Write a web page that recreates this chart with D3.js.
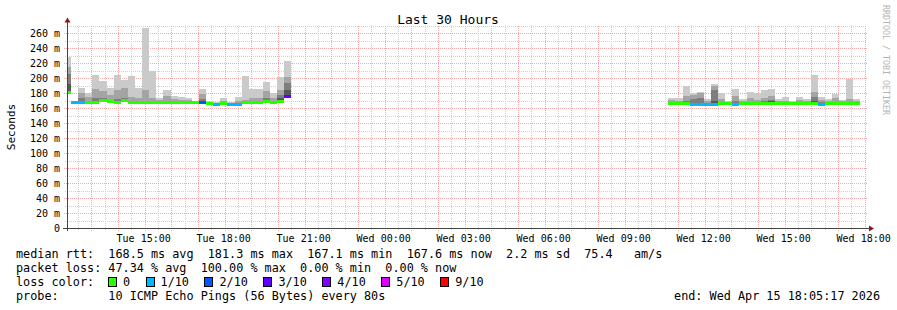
<!DOCTYPE html>
<meta charset="utf-8">
<html>
<head>
    <title>Last 30 Hours</title>
    <script src="https://cdn.jsdelivr.net/npm/d3@7"></script>
</head>

<style>
    body { margin: 0; background: #fff; }
    text { font-family: "DejaVu Sans Mono", monospace; fill: #000; }
</style>

<body>
<div id="chartdiv"></div>

<script>

// time window shown (30 hours)
const endTime = new Date(2026, 3, 15, 18, 5, 17);
const startTime = new Date(2026, 3, 14, 12, 5, 17);
const binMinutes = 16;

// first block of data (Tue afternoon/evening), one value per 16 min bin
const seg1Start = new Date(2026, 3, 14, 11, 58, 17);
const seg1Hi     = [228,170,187,180,204,196,187,204,198,203,187,267,209,173,184,176,175,174,170,185,169,168,173,168,175,203,185,185,195,180,201,223];
const seg1Mid    = [215,169,180,175,186,183,178,184,187,175,174,184,174,171,176,172,171,171,169,179,168,167,170,167,170,171,173,173,183,174,184,201];
const seg1Inner  = [206,168,174,170,173,174,171,172,174,169,169,170,169,168,170,169,168,168,168,172,167,166,168,166,166,168,169,169,173,169,178,193];
const seg1Core   = [192,168,168,168,168,171,169,168,171,168,168,168,168,168,168,168,168,168,168,168,167,166,167,166,166,168,168,168,169,168,173,184];
const seg1Median = [181,168,168,168,168,171,169,168,171,168,168,168,168,168,168,168,168,168,168,168,167,166,167,166,166,168,168,168,169,168,170,176];
const seg1Loss   = [0,1,1,0,0,0,0,0,0,0,0,0,0,0,0,0,0,0,0,2,0,1,0,1,1,0,0,0,0,0,0,3];

// second block of data (Wed late morning/afternoon)
const seg2Start = new Date(2026, 3, 15, 10, 38, 17);
const seg2Hi     = [174,174,189,180,181,172,192,180,170,185,172,182,180,184,185,172,175,170,175,172,204,175,172,179,171,199,172];
const seg2Mid    = [171,170,176,178,180,169,190,172,168,176,169,173,171,174,176,169,170,168,171,170,181,171,169,173,169,172,169];
const seg2Inner  = [168,168,170,172,174,167,184,168,167,169,168,168,168,169,171,168,168,167,168,168,175,168,168,168,168,168,168];
const seg2Core   = [167,167,167,166,166,166,170,167,167,166,167,167,167,167,169,167,167,167,167,167,170,166,167,167,167,167,167];
const seg2Median = [167,167,167,166,166,166,166,167,167,166,167,167,167,167,167,167,167,167,167,167,167,166,167,167,167,167,167];
const seg2Loss   = [0,0,0,1,1,1,1,0,0,1,0,0,0,0,0,0,0,0,0,0,0,1,0,0,0,0,0];

// loss colour legend
const lossLabels = ["0", "1/10", "2/10", "3/10", "4/10", "5/10", "9/10"];
const lossColors = ["#26ff00", "#00b8ff", "#0059ff", "#5e00ff", "#7e00ff", "#dd00ff", "#ff0000"];
const smokeColors = ["#cacaca", "#a4a4a4", "#7e7e7e", "#585858"];

// y ticks in ms
const yTicks = [0,20,40,60,80,100,120,140,160,180,200,220,240,260];

// text lines
const legendRtt  = "median rtt:  168.5 ms avg  181.3 ms max  167.1 ms min  167.6 ms now  2.2 ms sd  75.4   am/s";
const legendLoss = "packet loss: 47.34 % avg  100.00 % max  0.00 % min  0.00 % now";
const legendProbe = "probe:       10 ICMP Echo Pings (56 Bytes) every 80s";
const legendEnd = "end: Wed Apr 15 18:05:17 2026";

// chart geometry
const W = 897, H = 310;
const plotL = 67, plotR = 867, plotB = 228, plotT = 25.5;
const charW = 7.11;

const svg = d3.select("#chartdiv").append("svg")
    .attr("width", W).attr("height", H);

const x = d3.scaleTime().domain([startTime, endTime]).range([plotL, plotR]);
const y = d3.scaleLinear().domain([0, 270]).range([plotB, plotT]);

svg.append("clipPath").attr("id", "plotclip")
    .append("rect")
    .attr("x", plotL).attr("y", plotT - 5)
    .attr("width", plotR - plotL).attr("height", plotB - plotT + 5);

// grid - minor first, then major
const minorY = d3.range(10, 271, 20);
const majorY = d3.range(20, 271, 20);
const minorX = d3.timeMinute.every(30).range(startTime, endTime).filter(d => d.getMinutes() == 30);
const majorX = d3.timeHour.every(1).range(startTime, endTime);

const grid = svg.append("g");
grid.selectAll(".gy").data(minorY).enter().append("line")
    .attr("x1", plotL - 2).attr("x2", plotR)
    .attr("y1", d => Math.round(y(d)) + 0.5).attr("y2", d => Math.round(y(d)) + 0.5)
    .attr("stroke", "#cfcfcf").attr("stroke-dasharray", "1,1");
grid.selectAll(".gx").data(minorX).enter().append("line")
    .attr("x1", d => Math.round(x(d)) + 0.5).attr("x2", d => Math.round(x(d)) + 0.5)
    .attr("y1", plotB + 2).attr("y2", plotT)
    .attr("stroke", "#cfcfcf").attr("stroke-dasharray", "1,1");
grid.selectAll(".my").data(majorY).enter().append("line")
    .attr("x1", plotL - 3).attr("x2", plotR)
    .attr("y1", d => Math.round(y(d)) + 0.5).attr("y2", d => Math.round(y(d)) + 0.5)
    .attr("stroke", "#f5aaaa").attr("stroke-dasharray", "1,1");
grid.selectAll(".mx").data(majorX).enter().append("line")
    .attr("x1", d => Math.round(x(d)) + 0.5).attr("x2", d => Math.round(x(d)) + 0.5)
    .attr("y1", plotB + 3).attr("y2", plotT)
    .attr("stroke", "#f5aaaa").attr("stroke-dasharray", "1,1");

// build bins for the two segments
function makeBins(start, hi, mid, inner, core, median, loss) {
    return median.map((m, i) => ({
        t0: d3.timeMinute.offset(start, i * binMinutes),
        t1: d3.timeMinute.offset(start, (i + 1) * binMinutes),
        layers: [hi[i], mid[i], inner[i], core[i]],
        median: m,
        loss: loss[i]
    }));
}
const bins = makeBins(seg1Start, seg1Hi, seg1Mid, seg1Inner, seg1Core, seg1Median, seg1Loss)
    .concat(makeBins(seg2Start, seg2Hi, seg2Mid, seg2Inner, seg2Core, seg2Median, seg2Loss));

const plot = svg.append("g").attr("clip-path", "url(#plotclip)");

// smoke
smokeColors.forEach((c, li) => {
    plot.append("g").selectAll("rect")
        .data(bins.filter(b => b.layers[li] > b.median))
        .enter().append("rect")
        .attr("x", d => Math.round(x(d.t0)))
        .attr("width", d => Math.round(x(d.t1)) - Math.round(x(d.t0)))
        .attr("y", d => Math.round(y(d.layers[li])))
        .attr("height", d => Math.round(y(d.median - 2)) - Math.round(y(d.layers[li])))
        .attr("fill", c);
});

// median line coloured by loss
plot.append("g").selectAll("rect")
    .data(bins).enter().append("rect")
    .attr("x", d => Math.round(x(d.t0)))
    .attr("width", d => Math.round(x(d.t1)) - Math.round(x(d.t0)))
    .attr("y", d => Math.round(y(d.median)) - 1)
    .attr("height", 3)
    .attr("fill", d => lossColors[d.loss]);

// axes
svg.append("line")
    .attr("x1", plotL + 0.5).attr("x2", plotL + 0.5)
    .attr("y1", plotB + 3).attr("y2", plotT - 4)
    .attr("stroke", "#444");
svg.append("line")
    .attr("x1", plotL - 4).attr("x2", plotR + 3)
    .attr("y1", plotB + 0.5).attr("y2", plotB + 0.5)
    .attr("stroke", "#444");
svg.append("path")
    .attr("d", d3.line()([[plotL - 2.5, plotT - 3], [plotL + 3.5, plotT - 3], [plotL + 0.5, plotT - 8]]))
    .attr("fill", "#8b1a1a");
svg.append("path")
    .attr("d", d3.line()([[plotR + 2, plotB - 2.5], [plotR + 2, plotB + 3.5], [plotR + 7, plotB + 0.5]]))
    .attr("fill", "#8b1a1a");

// y tick labels
svg.append("g").selectAll("text")
    .data(yTicks).enter().append("text")
    .attr("x", 60).attr("y", d => y(d) + 3.5)
    .attr("text-anchor", "end")
    .style("font-size", "10px")
    .text(d => d == 0 ? "0" : d + " m");

// x tick labels every 3 hours
const xLabels = d3.timeHour.every(3).range(startTime, d3.timeMinute.offset(endTime, 1));
svg.append("g").selectAll("text")
    .data(xLabels).enter().append("text")
    .attr("x", d => x(d) - 1).attr("y", 241.5)
    .attr("text-anchor", "middle")
    .style("font-size", "10px")
    .text(d3.timeFormat("%a %H:%M"));

// title and axis label
svg.append("text")
    .attr("x", 448).attr("y", 24)
    .attr("text-anchor", "middle")
    .style("font-size", "13px")
    .text("Last 30 Hours");
svg.append("text")
    .attr("transform", "translate(15,127) rotate(-90)")
    .attr("text-anchor", "middle")
    .style("font-size", "11px")
    .text("Seconds");
svg.append("text")
    .attr("transform", "translate(883,5) rotate(90)")
    .attr("text-anchor", "start")
    .style("font-size", "8.3px")
    .style("fill", "#b4b4b4")
    .text("RRDTOOL / TOBI OETIKER");

// legend
const legFont = "11.8px";
const legX = 16;
[[legendRtt, 258], [legendLoss, 272], ["loss color:", 286], [legendProbe, 300]].forEach(r => {
    svg.append("text")
        .attr("x", legX).attr("y", r[1])
        .style("font-size", legFont)
        .style("white-space", "pre")
        .attr("xml:space", "preserve")
        .text(r[0]);
});
svg.append("text")
    .attr("x", 880).attr("y", 300)
    .attr("text-anchor", "end")
    .style("font-size", legFont)
    .text(legendEnd);

let sx = legX + 13 * charW - 0.5;
lossLabels.forEach((lab, i) => {
    svg.append("rect")
        .attr("x", Math.round(sx) + 0.5).attr("y", 277.5)
        .attr("width", 8).attr("height", 9)
        .attr("fill", lossColors[i]).attr("stroke", "#000");
    svg.append("text")
        .attr("x", sx + 15).attr("y", 286)
        .style("font-size", legFont)
        .text(lab);
    sx += 15 + lab.length * charW + 15.5;
});

</script>
</body>
</html>
